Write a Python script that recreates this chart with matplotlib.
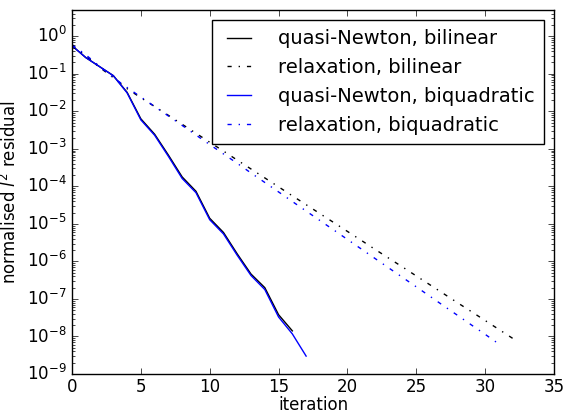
# Convergence of quasi-Newton vs relaxation iterations
import numpy as np
import matplotlib
matplotlib.use("Agg")
import matplotlib.pyplot as plt

plt.style.use("classic")
plt.rcParams["mathtext.fontset"] = "dejavusans"

# iteration counts
it_qn_bilin = list(range(17))
it_qn_biquad = list(range(18))
it_rx_bilin = list(range(33))
it_rx_biquad = list(range(32))

# normalised l2 residuals
qn_bilin = [0.56, 0.27, 0.155, 0.089, 0.032, 6.3e-3, 2.45e-3, 6.8e-4, 1.78e-4,
            7.4e-5, 1.41e-5, 5.9e-6, 1.58e-6, 4.6e-7, 2.0e-7, 3.8e-8, 1.41e-8]
qn_biquad = [0.56, 0.27, 0.155, 0.089, 0.031, 5.9e-3, 2.3e-3, 6.3e-4, 1.62e-4,
             6.8e-5, 1.29e-5, 5.4e-6, 1.45e-6, 4.2e-7, 1.78e-7, 3.3e-8, 1.17e-8,
             3.0e-9]
rx_bilin = [0.56, 0.30, 0.148, 0.079, 4.0e-2, 2.3e-2, 1.34e-2, 7.8e-3, 4.5e-3,
            2.6e-3, 1.5e-3, 8.7e-4, 5.0e-4, 2.9e-4, 1.68e-4, 9.7e-5, 5.6e-5,
            3.25e-5, 1.88e-5, 1.09e-5, 6.3e-6, 3.65e-6, 2.1e-6, 1.22e-6, 7.1e-7,
            4.1e-7, 2.37e-7, 1.37e-7, 7.9e-8, 4.6e-8, 2.66e-8, 1.54e-8, 8.9e-9]
rx_biquad = [0.60, 0.32, 0.158, 0.079, 4.3e-2, 2.4e-2, 1.34e-2, 7.5e-3, 4.2e-3,
             2.33e-3, 1.3e-3, 7.3e-4, 4.1e-4, 2.27e-4, 1.27e-4, 7.1e-5, 3.95e-5,
             2.2e-5, 1.23e-5, 6.9e-6, 3.85e-6, 2.15e-6, 1.2e-6, 6.7e-7, 3.75e-7,
             2.1e-7, 1.17e-7, 6.5e-8, 3.65e-8, 2.03e-8, 1.14e-8, 6.3e-9]

# decade ticks shown on the y axis
y_ticks = [1e-9, 1e-8, 1e-7, 1e-6, 1e-5, 1e-4, 1e-3, 1e-2, 1e-1, 1e0]

fig = plt.figure(figsize=(5.66, 4.13), dpi=100, facecolor="white")
ax = fig.add_axes([72 / 566, 39 / 413, 482 / 566, 364 / 413])

ax.semilogy(it_qn_bilin, qn_bilin, "k-", lw=1, label="quasi-Newton, bilinear")
ax.semilogy(it_rx_bilin, rx_bilin, "k-.", lw=1, dashes=(3, 5, 1, 5),
            label="relaxation, bilinear")
ax.semilogy(it_qn_biquad, qn_biquad, "b-", lw=1, label="quasi-Newton, biquadratic")
ax.semilogy(it_rx_biquad, rx_biquad, "b-.", lw=1, dashes=(3, 5, 1, 5),
            label="relaxation, biquadratic")

ax.set_xlim(0, 35)
ax.set_yticks(y_ticks)
ax.set_ylim(1e-9, 5)
ax.set_xlabel("iteration", labelpad=0)
ax.set_ylabel("normalised $l^2$ residual")
ax.tick_params(axis="x", pad=3)
ax.legend(loc="upper right", fontsize=14, handlelength=1.8, handletextpad=1.1,
          borderpad=0.5)

fig.savefig("out.png", dpi=100, facecolor="white")
